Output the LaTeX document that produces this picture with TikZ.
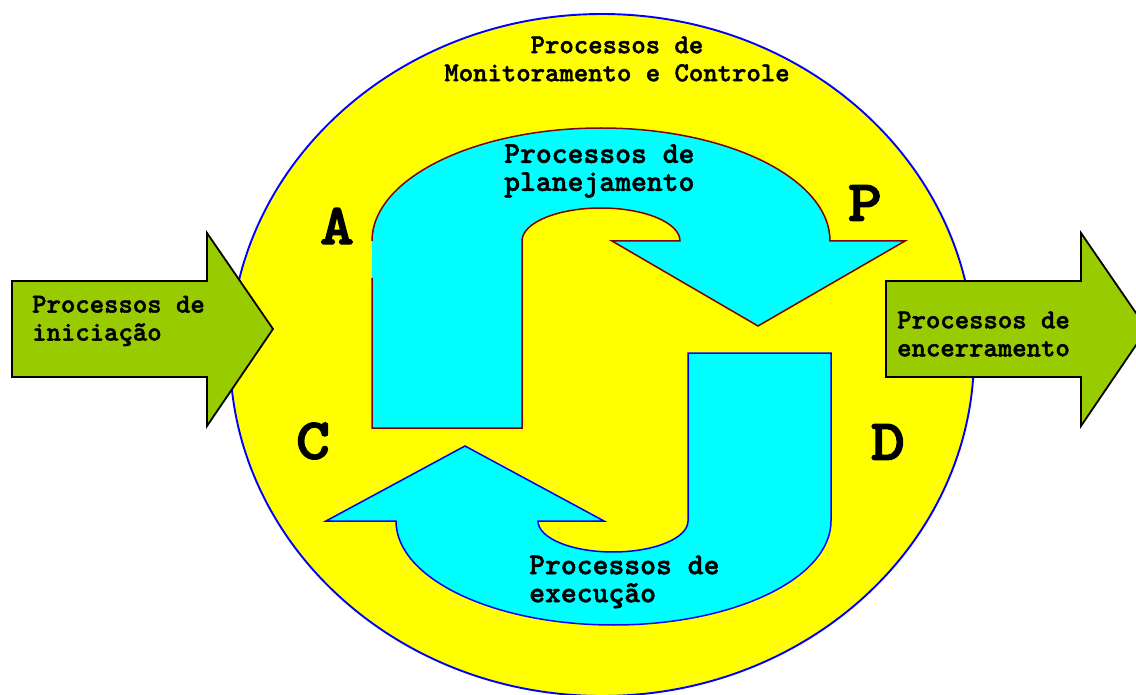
\documentclass[tikz,border=0pt]{standalone}
\usepackage{fontspec}
\newfontfamily\cour{lmmonolt10-bold}[Extension=.otf, FakeBold=1.6]
\newfontfamily\courL{lmmonolt10-bold}[Extension=.otf, FakeBold=2.2, FakeStretch=1.12]
\definecolor{ygold}{HTML}{FFFF00}
\definecolor{cyanf}{HTML}{00FFFF}
\definecolor{greenf}{HTML}{99CC00}
\definecolor{darkred}{HTML}{800000}
\definecolor{blueline}{HTML}{0000FF}
\tikzset{
  txt/.style={inner sep=0pt, font=\cour\fontsize{27.4}{28}\selectfont, align=left},
  txtbig/.style={inner sep=0pt, font=\cour\fontsize{30.2}{28}\selectfont, align=left},
  letter/.style={inner sep=0pt, font=\courL\fontsize{58}{60}\selectfont},
  greenarrow/.style={fill=greenf, draw=black, line width=1.8pt, line join=miter},
}
\begin{document}
\begin{tikzpicture}[x=1pt,y=-1pt]
\useasboundingbox (0,0) rectangle (1136,695);
\clip (0,0) rectangle (1136,695);
% big ellipse
\fill[ygold] (602,355) ellipse [x radius=372, y radius=341];
\draw[blueline, line width=1.9pt] (602,355) ellipse [x radius=372, y radius=341];
% top cyan arrow (planning)
\fill[cyanf] (372,428) -- (372,241) arc[start angle=180, end angle=360, x radius=229, y radius=113]
  -- (905,241) -- (758,326) -- (612,241) -- (680,241)
  arc[start angle=0, end angle=-180, x radius=79, y radius=33] -- (522,428) -- cycle;
\draw[darkred, line width=1.5pt, line join=miter] (372,278) -- (372,428) -- (522,428) -- (522,241)
  arc[start angle=180, end angle=360, x radius=79, y radius=33] -- (612,241) -- (758,326) -- (905,241) -- (830,241)
  arc[start angle=0, end angle=-180, x radius=229, y radius=113];
% bottom cyan arrow (execution)
\filldraw[fill=cyanf, draw=blueline, line width=1.5pt, line join=miter]
  (688,353) -- (831,353) -- (831,521) arc[start angle=0, end angle=180, x radius=217.5, y radius=104]
  -- (326,521) -- (465,446) -- (604,521) -- (538,521)
  arc[start angle=180, end angle=0, x radius=75, y radius=31] -- cycle;
% green arrows
\draw[greenarrow] (12,281) -- (207,281) -- (207,233) -- (273,329) -- (207,426) -- (207,377) -- (12,377) -- cycle;
\draw[greenarrow] (886,281) -- (1081,281) -- (1081,233) -- (1147,329) -- (1081,426) -- (1081,377) -- (886,377) -- cycle;
% texts
\node[txt, align=center] (mon) at (617,59) {Processos de\\Monitoramento e Controle};
\node[txt, anchor=west] (ini) at (32,321) {Processos de\\iniciação};
\node[txt, anchor=west] (enc) at (897,334) {Processos de\\encerramento};
\node[txtbig, anchor=west] (pla) at (504,171) {Processos de\\planejamento};
\node[txtbig, anchor=west] (exe) at (529,582) {Processos de\\execução};
\node[letter] (A) at (337,226) {A};
\node[letter] (P) at (865,203) {P};
\node[letter] (C) at (313,441) {C};
\node[letter] (D) at (888,442) {D};
\end{tikzpicture}
\end{document}
